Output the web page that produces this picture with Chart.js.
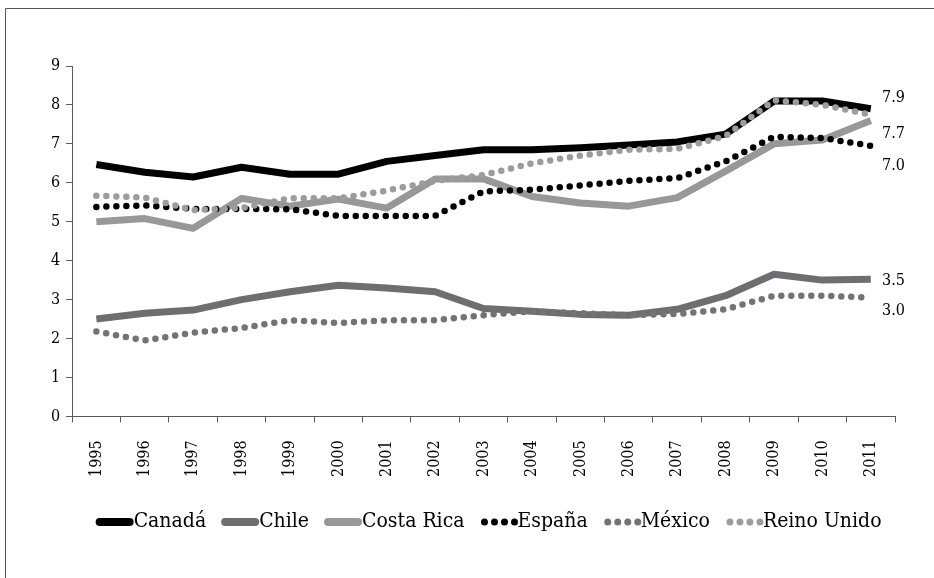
<!DOCTYPE html>
<html>
<head>
<meta charset="utf-8">
<script src="https://cdn.jsdelivr.net/npm/chart.js@4.4.1/dist/chart.umd.min.js"></script>
<style>
  body { margin: 0; background: #fff; }
  #wrap { width: 934px; height: 578px; }
</style>
</head>
<body>
<div id="wrap"><canvas id="mycanvas" width="934" height="578"></canvas></div>
<script>
var years = ['1995','1996','1997','1998','1999','2000','2001','2002','2003','2004','2005','2006','2007','2008','2009','2010','2011'];

var canada     = [6.47, 6.27, 6.15, 6.40, 6.22, 6.22, 6.55, 6.70, 6.85, 6.85, 6.90, 6.97, 7.05, 7.25, 8.10, 8.10, 7.90];
var chile      = [2.50, 2.65, 2.73, 3.00, 3.20, 3.37, 3.30, 3.20, 2.77, 2.70, 2.62, 2.60, 2.75, 3.10, 3.65, 3.50, 3.52];
var costaRica  = [5.00, 5.08, 4.83, 5.60, 5.40, 5.58, 5.35, 6.10, 6.10, 5.65, 5.48, 5.40, 5.62, 6.30, 7.00, 7.10, 7.60];
var espana     = [5.38, 5.42, 5.33, 5.33, 5.32, 5.15, 5.15, 5.15, 5.78, 5.82, 5.93, 6.05, 6.12, 6.55, 7.18, 7.15, 6.95];
var mexico     = [2.18, 1.95, 2.15, 2.27, 2.47, 2.40, 2.47, 2.47, 2.60, 2.70, 2.65, 2.60, 2.63, 2.75, 3.10, 3.10, 3.05];
var reinoUnido = [5.67, 5.62, 5.30, 5.35, 5.60, 5.60, 5.80, 6.05, 6.20, 6.50, 6.70, 6.85, 6.87, 7.20, 8.12, 8.00, 7.75];

// value labels on the right of the last year, and where they sit on the y scale
var endLabels = ['7.9', '7.7', '7.0', '3.5', '3.0'];
var endLabelAt = [8.17, 7.27, 6.43, 3.47, 2.72];

var fontFam = "'DejaVu Serif Condensed', 'Liberation Serif', serif";
var axisColor = '#5a5a5a';

function solid(label, data, color, order) {
  return { label: label, data: data, borderColor: color, backgroundColor: color, order: order,
           borderWidth: 7, pointRadius: 0, tension: 0, borderCapStyle: 'butt', borderJoinStyle: 'round' };
}
function dotted(label, data, color, order) {
  return { label: label, data: data, borderColor: color, backgroundColor: color, order: order,
           borderWidth: 6.5, pointRadius: 0, tension: 0, borderDash: [0, 10],
           borderCapStyle: 'round', borderJoinStyle: 'round' };
}

var framePlugin = {
  id: 'frame',
  beforeDraw: function(chart) {
    var ctx = chart.ctx;
    ctx.save();
    ctx.strokeStyle = '#555';
    ctx.lineWidth = 1;
    ctx.beginPath();
    ctx.moveTo(5.5, chart.height);
    ctx.lineTo(5.5, 8.5);
    ctx.lineTo(chart.width, 8.5);
    ctx.stroke();
    ctx.restore();
  }
};

var endLabelPlugin = {
  id: 'endLabels',
  afterDatasetsDraw: function(chart) {
    var ctx = chart.ctx;
    var y = chart.scales.y;
    ctx.save();
    ctx.fillStyle = '#000';
    ctx.font = '16px ' + fontFam;
    ctx.textAlign = 'left';
    ctx.textBaseline = 'middle';
    for (var i = 0; i < endLabels.length; i++) {
      ctx.fillText(endLabels[i], chart.chartArea.right - 13, y.getPixelForValue(endLabelAt[i]));
    }
    ctx.restore();
  }
};

// legend drawn by hand so the dotted series show dots like the original
var legendPlugin = {
  id: 'dotLegend',
  afterDraw: function(chart) {
    var ctx = chart.ctx;
    var sets = chart.data.datasets;
    var symW = 38, gap = 15, yMid = 522;
    ctx.save();
    ctx.font = '21px ' + fontFam;
    var total = 0;
    for (var i = 0; i < sets.length; i++) {
      total += symW + ctx.measureText(sets[i].label).width + (i < sets.length - 1 ? gap : 0);
    }
    var x = (chart.chartArea.left + chart.chartArea.right) / 2 + 5 - total / 2;
    for (var j = 0; j < sets.length; j++) {
      var ds = sets[j];
      ctx.strokeStyle = ds.borderColor;
      ctx.lineCap = 'round';
      ctx.beginPath();
      if (ds.borderDash) {
        ctx.lineWidth = 7;
        ctx.setLineDash([0, 10]);
        ctx.moveTo(x + 5, yMid);
        ctx.lineTo(x + 36, yMid);
      } else {
        ctx.lineWidth = 8;
        ctx.setLineDash([]);
        ctx.moveTo(x + 4, yMid);
        ctx.lineTo(x + 34, yMid);
      }
      ctx.stroke();
      ctx.setLineDash([]);
      ctx.fillStyle = '#000';
      ctx.textAlign = 'left';
      ctx.textBaseline = 'middle';
      ctx.fillText(ds.label, x + symW, yMid);
      x += symW + ctx.measureText(ds.label).width + gap;
    }
    ctx.restore();
  }
};

Chart.defaults.font.family = fontFam;
Chart.defaults.font.size = 16;
Chart.defaults.color = '#000';

var ctx = document.getElementById('mycanvas');
var LineGraph = new Chart(ctx, {
  type: 'line',
  data: {
    labels: years,
    datasets: [
      solid('Canadá', canada, '#000000', 6),
      solid('Chile', chile, '#6d6e71', 5),
      solid('Costa Rica', costaRica, '#97989a', 4),
      dotted('España', espana, '#000000', 3),
      dotted('México', mexico, '#737373', 2),
      dotted('Reino Unido', reinoUnido, '#9c9c9c', 1)
    ]
  },
  options: {
    responsive: false,
    animation: false,
    layout: { padding: { left: 45, right: 39, top: 66, bottom: 83 } },
    scales: {
      x: {
        offset: true,
        grid: { offset: true, drawOnChartArea: false, drawTicks: true, tickLength: 6, color: axisColor },
        border: { color: axisColor },
        ticks: { minRotation: 90, maxRotation: 90, autoSkip: false, padding: 18 }
      },
      y: {
        min: 0, max: 9,
        grid: { drawOnChartArea: false, drawTicks: true, tickLength: 6, color: axisColor },
        border: { color: axisColor },
        ticks: { stepSize: 1, padding: 6 }
      }
    },
    plugins: {
      legend: { display: false },
      tooltip: { enabled: false }
    }
  },
  plugins: [framePlugin, endLabelPlugin, legendPlugin]
});
</script>
</body>
</html>
